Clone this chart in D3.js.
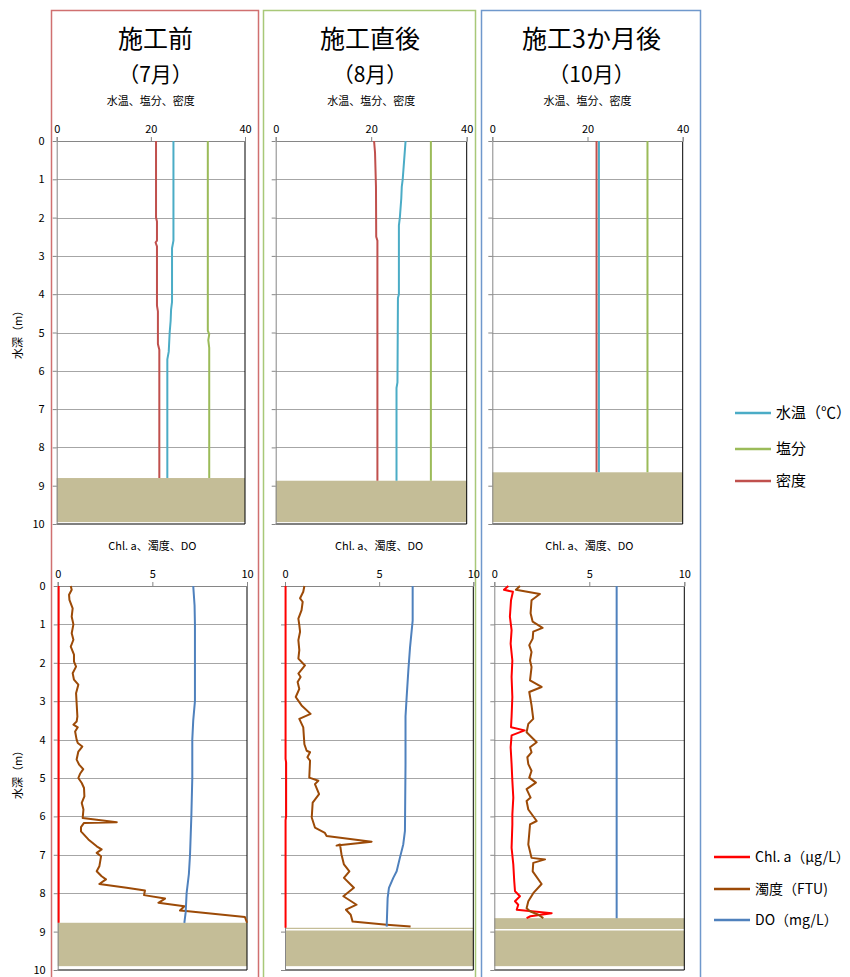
<!DOCTYPE html>
<html>
<head>
<meta charset="utf-8">
<script src="https://cdn.jsdelivr.net/npm/d3@7"></script>
<style>
  body { margin: 0; background: #fff; }
  text { font-family: "Noto Sans CJK JP", "Noto Sans", sans-serif; fill: #000; }
</style>
</head>
<body>
<div id="chart"></div>
<script>
// titles and labels
var titles = ["施工前", "施工直後", "施工3か月後"];
var months = ["（7月）", "（8月）", "（10月）"];
var topAxisTitle = "水温、塩分、密度";
var bottomAxisTitle = "Chl. a、濁度、DO";
var depthLabel = "水深（m）";
var topTicks = [0, 20, 40];
var bottomTicks = [0, 5, 10];
var depthTicks = [0, 1, 2, 3, 4, 5, 6, 7, 8, 9, 10];
var topLegend = ["水温（℃）", "塩分", "密度"];
var bottomLegend = ["Chl. a（μg/L）", "濁度（FTU)", "DO（mg/L）"];

// sediment (depth from/to)
var bedTop = [[8.8, 9.95], [8.87, 9.95], [8.65, 9.95]];
var bedBottom = [[8.77, 9.9], [8.9, 9.9], [8.65, 9.9]];

// [depth, value] — before (7月)
var tempBefore = [[0,24.8],[2.6,24.8],[2.8,24.5],[4.2,24.5],[4.4,24.3],[4.7,24.2],[5.0,24.0],[5.5,23.8],[5.7,23.5],[8.8,23.5]];
var salBefore = [[0,32.1],[4.95,32.1],[5.05,32.4],[5.2,32.2],[5.4,32.4],[8.8,32.4]];
var densBefore = [[0,21.1],[2.0,21.1],[2.1,21.3],[2.6,21.3],[2.65,21.0],[2.75,21.3],[4.3,21.3],[4.45,21.5],[5.3,21.5],[5.45,21.8],[8.8,21.8]];

// after (8月)
var tempAfter = [[0,27.2],[0.5,26.9],[1.0,26.6],[1.2,26.4],[1.5,26.3],[2.0,26.0],[2.2,25.8],[4.0,25.8],[4.1,25.6],[6.3,25.5],[6.45,25.3],[8.87,25.3]];
var salAfter = [[0,32.5],[8.87,32.5]];
var densAfter = [[0,20.6],[0.3,20.8],[1.2,21.0],[2.5,21.05],[2.6,21.3],[8.87,21.3]];

// 3 months (10月)
var temp3m = [[0,22.4],[8.65,22.4]];
var sal3m = [[0,32.6],[8.65,32.6]];
var dens3m = [[0,21.9],[8.65,21.9]];

// chl.a
var chlBefore = [[0,0.05],[8.77,0.05]];
var chlAfter = [[0,0.03],[4.5,0.03],[4.6,0.06],[6.0,0.06],[6.1,0.03],[8.9,0.03]];
var chl3m = [[0,0.74],[0.1,0.51],[0.15,0.98],[0.37,0.88],[0.8,0.82],[1.15,0.91],[1.5,0.86],[1.94,0.95],[2.37,0.91],[2.89,0.95],[3.4,0.91],[3.68,0.88],[3.76,1.6],[3.89,0.91],[4.2,0.86],[4.64,0.91],[5.07,0.95],[5.51,1.0],[5.95,0.95],[6.21,0.95],[6.82,0.91],[7.25,1.0],[7.69,1.05],[7.95,1.09],[8.08,1.35],[8.21,1.09],[8.3,1.26],[8.43,1.18],[8.52,3.02],[8.6,1.9],[8.65,1.7]];

// turbidity
var turbBefore = [[0,0.69],[0.1,0.74],[0.23,0.6],[0.36,0.62],[0.58,0.79],[0.8,0.74],[1.0,0.83],[1.23,0.74],[1.4,0.83],[1.58,0.69],[1.79,0.86],[1.97,0.86],[2.1,0.97],[2.27,0.79],[2.44,0.86],[2.57,1.09],[2.79,0.97],[3.05,1.0],[3.4,1.04],[3.53,1.0],[3.61,0.83],[3.68,1.06],[3.79,0.92],[4.0,1.0],[4.09,1.06],[4.18,1.3],[4.31,1.09],[4.52,1.0],[4.65,1.13],[4.77,1.35],[4.89,1.18],[5.0,1.09],[5.13,1.27],[5.26,1.39],[5.48,1.41],[5.65,1.27],[5.82,1.36],[6.04,1.32],[6.15,3.12],[6.17,1.39],[6.28,1.23],[6.39,1.23],[6.6,1.62],[6.78,2.06],[6.86,2.32],[6.95,2.06],[7.04,2.29],[7.3,2.2],[7.43,2.06],[7.56,2.32],[7.64,2.55],[7.76,2.2],[7.86,3.64],[7.93,4.61],[8.05,4.56],[8.14,5.67],[8.25,5.32],[8.34,6.69],[8.45,6.46],[8.47,6.9],[8.62,9.89],[8.77,10.0]];
var turbAfter = [[0,1.03],[0.15,0.97],[0.32,0.8],[0.41,0.94],[0.63,0.88],[0.85,0.71],[1.02,0.76],[1.19,0.8],[1.41,0.71],[1.67,0.76],[1.89,0.71],[2.07,1.06],[2.28,0.71],[2.37,0.83],[2.5,0.67],[2.68,0.76],[2.89,0.57],[3.11,0.88],[3.33,1.36],[3.46,0.76],[3.68,0.97],[4.12,1.03],[4.29,1.15],[4.33,1.33],[4.46,1.19],[4.55,1.33],[4.99,1.29],[5.07,1.77],[5.16,1.59],[5.42,1.81],[5.64,1.47],[6.03,1.42],[6.29,1.59],[6.43,2.12],[6.51,2.21],[6.66,4.6],[6.76,2.74],[6.73,2.92],[6.99,3.0],[7.25,3.13],[7.43,3.42],[7.6,3.13],[7.86,3.66],[8.08,3.1],[8.3,3.8],[8.43,3.24],[8.56,3.49],[8.74,3.59],[8.82,5.4],[8.87,6.67]];
var turb3m = [[0,1.35],[0.1,1.14],[0.21,2.4],[0.37,1.96],[0.71,1.91],[0.93,2.02],[1.09,2.54],[1.19,2.05],[1.37,2.02],[1.54,1.84],[1.72,1.96],[1.94,1.88],[2.11,1.96],[2.46,1.88],[2.63,2.49],[2.76,1.84],[3.11,1.96],[3.46,2.05],[3.59,1.79],[3.81,1.7],[4.07,2.23],[4.2,1.88],[4.33,1.96],[4.46,1.74],[4.64,1.79],[4.81,1.96],[4.99,1.84],[5.12,2.19],[5.29,1.7],[5.51,1.91],[5.6,1.7],[5.82,1.79],[6.12,2.23],[6.21,1.88],[6.73,1.79],[7.08,1.96],[7.12,2.67],[7.21,2.05],[7.43,2.02],[7.76,2.49],[8.0,2.05],[8.21,1.79],[8.39,1.7],[8.47,1.88],[8.56,2.32],[8.65,2.58]];

// DO
var doBefore = [[0,7.16],[0.5,7.23],[1,7.25],[3,7.25],[3.5,7.16],[4,7.11],[5,7.11],[6,7.06],[7,6.99],[7.5,6.93],[8,6.81],[8.5,6.76],[8.77,6.69]];
var doAfter = [[0,6.78],[0.9,6.78],[1.6,6.64],[2.2,6.55],[2.9,6.46],[3.4,6.4],[4.64,6.4],[6.38,6.37],[6.73,6.28],[7.08,6.1],[7.43,5.93],[7.6,5.75],[7.86,5.52],[8.13,5.45],[8.87,5.4]];
var do3m = [[0,6.44],[8.65,6.44]];

var cTemp = "#4bacc6", cSal = "#9bbb59", cDens = "#c0504d";
var cChl = "#ff0000", cTurb = "#9c4a07", cDo = "#4f81bd";
var cBed = "#c4bd97";

var svg = d3.select("#chart").append("svg")
  .attr("width", 850)
  .attr("height", 977);

// panel frames
var frames = [
  { x0: 51, x1: 258, color: "#d07070" },
  { x0: 263, x1: 475, color: "#a8c878" },
  { x0: 481, x1: 700, color: "#6f98cc" }
];
frames.forEach(function(f, i) {
  svg.append("path")
    .attr("d", `M${f.x0 + 0.5},977V${10.5}H${f.x1 + 0.5}V977`)
    .attr("fill", "none")
    .attr("stroke", f.color)
    .attr("stroke-width", 1.5);
  var cx = (f.x0 + f.x1) / 2 + 1;
  svg.append("text").attr("x", cx).attr("y", 48)
    .attr("text-anchor", "middle").attr("font-size", 25)
    .text(titles[i]);
  svg.append("text").attr("x", cx).attr("y", 82)
    .attr("text-anchor", "middle").attr("font-size", 21)
    .text(months[i]);
});

// plot positions
var topX = [[56.7, 245], [275.7, 466.7], [492.3, 682.7]];
var botX = [[57.7, 247], [285, 473.3], [494.3, 684.3]];

var topSeries = [
  [tempBefore, salBefore, densBefore],
  [tempAfter, salAfter, densAfter],
  [temp3m, sal3m, dens3m]
];
var botSeries = [
  [chlBefore, turbBefore, doBefore],
  [chlAfter, turbAfter, doAfter],
  [chl3m, turb3m, do3m]
];

function drawPlot(xr, yr, xDomain, xTicks, series, colors, bed, title, showLabels, whiteLine) {
  var x = d3.scaleLinear().domain(xDomain).range(xr);
  var y = d3.scaleLinear().domain([0, 10]).range(yr);
  var g = svg.append("g");

  // gridlines
  g.selectAll(".grid")
    .data(depthTicks.filter(d => d > 0 && d < 10))
    .enter().append("line")
    .attr("x1", xr[0]).attr("x2", xr[1])
    .attr("y1", d => Math.round(y(d)) + 0.5)
    .attr("y2", d => Math.round(y(d)) + 0.5)
    .attr("stroke", "#a6a6a6");

  // sediment
  g.append("rect")
    .attr("x", xr[0]).attr("width", xr[1] - xr[0])
    .attr("y", y(bed[0])).attr("height", y(bed[1]) - y(bed[0]))
    .attr("fill", cBed);
  if (whiteLine) {
    g.append("line")
      .attr("x1", xr[0]).attr("x2", xr[1])
      .attr("y1", y(whiteLine)).attr("y2", y(whiteLine))
      .attr("stroke", "#fff").attr("stroke-width", 1.5);
  }

  // right and bottom border
  g.append("path")
    .attr("d", `M${xr[1]},${yr[0]}V${yr[1]}H${xr[0]}`)
    .attr("fill", "none").attr("stroke", "#000").attr("stroke-width", 1);

  // axes
  var xAxis = g.append("g")
    .attr("transform", `translate(0,${yr[0]})`)
    .call(d3.axisTop(x).tickValues(xTicks).tickSize(4).tickSizeOuter(4).tickPadding(4));
  var yAxis = g.append("g")
    .attr("transform", `translate(${xr[0]},0)`)
    .call(d3.axisLeft(y).tickValues(depthTicks).tickSize(4).tickSizeOuter(0).tickPadding(8)
      .tickFormat(showLabels ? d3.format("d") : ""));
  [xAxis, yAxis].forEach(function(a) {
    a.select(".domain").attr("stroke", "#868686");
    a.selectAll(".tick line").attr("stroke", "#868686");
    a.selectAll("text").attr("font-size", 11)
      .attr("font-family", "'Noto Sans', sans-serif");
  });

  g.append("text")
    .attr("x", (xr[0] + xr[1]) / 2)
    .attr("y", yr[0] - 36)
    .attr("text-anchor", "middle")
    .attr("font-size", 11)
    .text(title);

  // data lines
  var line = d3.line().x(d => x(d[1])).y(d => y(d[0]));
  series.forEach(function(s, i) {
    g.append("path")
      .datum(s)
      .attr("d", line)
      .attr("fill", "none")
      .attr("stroke", colors[i])
      .attr("stroke-width", 2)
      .attr("stroke-linejoin", "round");
  });
}

for (var i = 0; i < 3; i++) {
  drawPlot(topX[i], [141, 524], [0, 40], topTicks, topSeries[i],
    [cTemp, cSal, cDens], bedTop[i], topAxisTitle, i === 0, null);
  drawPlot(botX[i], [586, 970], [0, 10], bottomTicks, botSeries[i],
    [cChl, cTurb, cDo], bedBottom[i], bottomAxisTitle, i === 0, i === 0 ? null : 8.95);
}

// depth labels
[332, 772].forEach(function(cy) {
  svg.append("text")
    .attr("transform", `translate(22,${cy}) rotate(-90)`)
    .attr("text-anchor", "middle")
    .attr("font-size", 11)
    .text(depthLabel);
});

// legends
function legend(x, ys, labels, colors, size) {
  labels.forEach(function(l, i) {
    svg.append("line")
      .attr("x1", x).attr("x2", x + 36)
      .attr("y1", ys[i]).attr("y2", ys[i])
      .attr("stroke", colors[i]).attr("stroke-width", 2.5);
    svg.append("text")
      .attr("x", x + 41).attr("y", ys[i] + 5)
      .attr("font-size", size)
      .text(l);
  });
}
legend(735, [413, 449, 481], topLegend, [cTemp, cSal, cDens], 15);
legend(714, [857, 889, 920], bottomLegend, [cChl, cTurb, cDo], 14);
</script>
</body>
</html>
